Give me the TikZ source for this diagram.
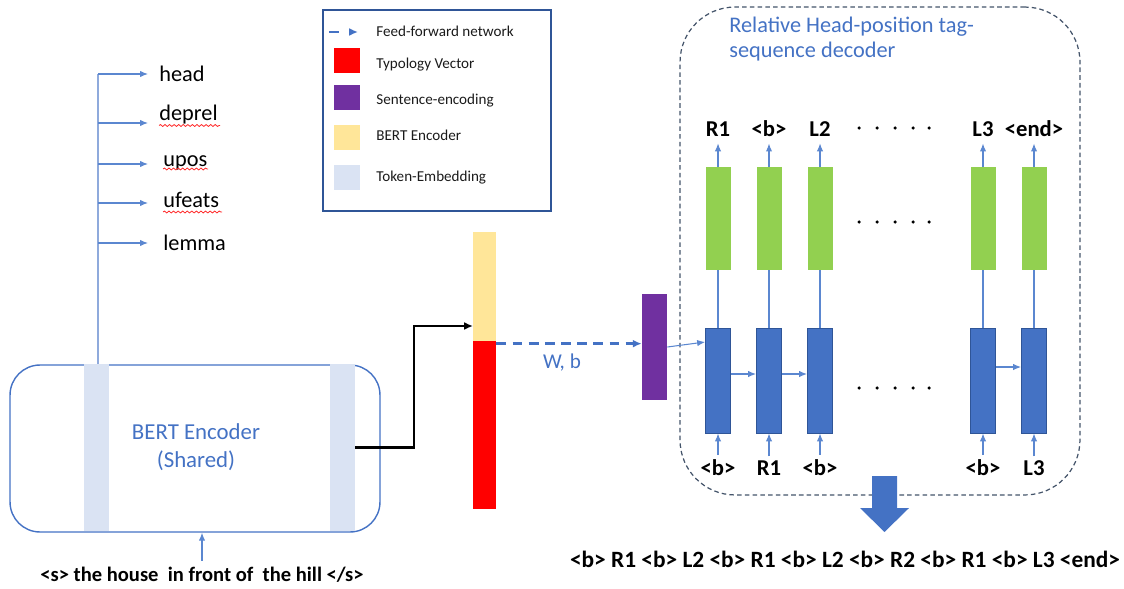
\documentclass[tikz,border=0pt]{standalone}
\usepackage{fontspec}
\setmainfont{Carlito}
\usetikzlibrary{arrows.meta,decorations.pathmorphing}
\definecolor{bblue}{HTML}{4472C4}
\definecolor{dblue}{HTML}{2F5597}
\definecolor{lblue}{HTML}{DAE3F3}
\definecolor{yel}{HTML}{FFE699}
\definecolor{purp}{HTML}{7030A0}
\definecolor{grn}{HTML}{92D050}
\definecolor{slate}{HTML}{44546A}
\definecolor{treeblue}{HTML}{8FAADC}
\definecolor{arrblue}{HTML}{5B87D0}
\definecolor{txt}{HTML}{1A1A1A}
\begin{document}
\begin{tikzpicture}[x=0.02cm,y=-0.02cm,
  thinarr/.style={draw=arrblue, line width=0.6pt, -{Latex[length=4.5pt,width=3.6pt]}},
  plainln/.style={draw=arrblue, line width=0.6pt},
  ffn/.style={draw=bblue, line width=1.4pt, dash pattern=on 5.6pt off 3.6pt, -{Latex[length=5pt,width=4.5pt]}},
  blk/.style={draw=black, line width=1.3pt, -{Latex[length=5pt,width=4.5pt]}},
  sq/.style={minimum width=0.52cm, minimum height=0.5cm, inner sep=0, draw=none},
  ltext/.style={anchor=base west, inner sep=0, text=txt, font=\fontsize{8.6pt}{10pt}\selectfont},
  treelab/.style={anchor=base west, inner sep=0, text=black, font=\fontsize{12.7pt}{15pt}\selectfont},
  strip/.style={fill=lblue, minimum width=0.5cm, minimum height=3.34cm, inner sep=0},
  gbox/.style={fill=grn, minimum width=0.5cm, minimum height=2.06cm, inner sep=0},
  bbox/.style={fill=bblue, draw=dblue, line width=0.5pt, minimum width=0.5cm, minimum height=2.1cm, inner sep=0},
  tlab/.style={anchor=base, inner sep=0, text=black, font=\fontsize{12.9pt}{15pt}\selectfont\bfseries},
  squig/.style={draw=red!85!white, line width=0.45pt, decorate, decoration={snake, amplitude=0.55pt, segment length=2.6pt}},
]
\useasboundingbox (0,0) rectangle (1124,588);

% ---------------- legend ----------------
\node[draw=dblue, line width=1.2pt, minimum width=4.56cm, minimum height=4.02cm, inner sep=0] (legend) at (437,110.5) {};
\coordinate (lgA) at (329,32);
\coordinate (lgB) at (358,32);
\draw[ffn, dash pattern=on 5.6pt off 6.4pt] (lgA) -- (lgB);
\node[sq, fill=red]   (lg1) at (347,60.5) {};
\node[sq, fill=purp]  (lg2) at (347,97.5) {};
\node[sq, fill=yel]   (lg3) at (347,137.5) {};
\node[sq, fill=lblue] (lg4) at (346.5,177.5) {};
\node[ltext] (lt0) at (376,36.5) {Feed-forward network};
\node[ltext] (lt1) at (376,69) {Typology Vector};
\node[ltext] (lt2) at (376,104) {Sentence-encoding};
\node[ltext] (lt3) at (376,140) {BERT Encoder};
\node[ltext] (lt4) at (376,181.5) {Token-Embedding};

% ---------------- shared encoder ----------------
\node[draw=bblue, line width=0.8pt, rounded corners=0.6cm, minimum width=7.4cm, minimum height=3.34cm, inner sep=0] (enc) at (195,448.5) {};
\node[strip] (s1) at (96.5,447.5) {};
\node[strip] (s2) at (342.5,447.5) {};
\node[anchor=base, inner sep=0, text=bblue, font=\fontsize{13pt}{16pt}\selectfont] (encl1) at (196,439) {BERT Encoder};
\node[anchor=base, inner sep=0, text=bblue, font=\fontsize{13pt}{16pt}\selectfont] (encl2) at (196,467) {(Shared)};

\node[anchor=base, inner sep=0, font=\fontsize{11.7pt}{14pt}\selectfont\bfseries] (sent) at (202,581) {<s> the house\ \ in front of\ \ the hill </s>};
\draw[thinarr, shorten <=3pt] (sent.north) -- (sent.north |- enc.south);

% ---------------- tree of outputs ----------------
\coordinate (ttop) at (98,74);
\draw[draw=treeblue, line width=1.3pt] (s1.north -| ttop) -- (ttop);
\node[treelab] (hd) at (159,82) {head};
\node[treelab] (dr) at (159,120) {deprel};
\node[treelab] (up) at (163,166) {upos};
\node[treelab] (uf) at (163,207) {ufeats};
\node[treelab] (lm) at (163,250) {lemma};
\coordinate (e1) at (148,74);
\coordinate (e2) at (148,123);
\coordinate (e3) at (148,164);
\coordinate (e4) at (148,203);
\coordinate (e5) at (148,243);
\foreach \k in {1,...,5} \draw[thinarr] (ttop |- e\k) -- (e\k);
\draw[squig] (159,125.5) -- (220,125.5);
\draw[squig] (163,169) -- (208,169);
\draw[squig] (163,212) -- (222,212);

% ---------------- concatenated vector ----------------
\node[fill=yel, minimum width=0.46cm, minimum height=2.18cm, inner sep=0] (yb) at (484.5,286.5) {};
\node[fill=red, minimum width=0.46cm, minimum height=3.36cm, inner sep=0] (rb) at (484.5,425) {};
\coordinate (ybin) at (473,326);
\draw[blk] (s2.east) -- ++(59,0) |- (ybin);

% ---------------- sentence encoding ----------------
\node[fill=purp, minimum width=0.5cm, minimum height=2.12cm, inner sep=0] (pb) at (654.5,347) {};
\draw[ffn] ([yshift=-1.7pt]rb.north east) coordinate (ffs) -- (pb.west |- ffs);
\node[anchor=base, inner sep=0, text=bblue, font=\fontsize{12pt}{14pt}\selectfont] (wb) at (562,368) {W, b};

% ---------------- decoder ----------------
\node[draw=slate, line width=0.7pt, dash pattern=on 2.6pt off 1.8pt, rounded corners=1.1cm, minimum width=8cm, minimum height=9.76cm, inner sep=0] (dec) at (880,251) {};
\node[anchor=base west, inner sep=0, text=bblue, font=\fontsize{12.7pt}{15pt}\selectfont] (dt1) at (729,32.5) {Relative Head-position tag-};
\node[anchor=base west, inner sep=0, text=bblue, font=\fontsize{12.7pt}{15pt}\selectfont] (dt2) at (729,57.5) {sequence decoder};

\foreach \i/\x/\tp/\bt in {1/718/R1/{<b>}, 2/769/{<b>}/R1, 3/820/L2/{<b>}, 4/983/L3/{<b>}, 5/1034/{<end>}/L3} {
  \node[gbox] (g\i) at (\x,218.5) {};
  \node[bbox] (b\i) at (\x,380.5) {};
  \node[tlab] (t\i) at (\x,136) {\tp};
  \node[tlab] (u\i) at (\x,475) {\bt};
  \draw[plainln] (b\i.north) -- (g\i.south);
  \draw[thinarr, shorten >=4pt] (g\i.north) -- (t\i.south);
  \draw[thinarr, shorten <=2pt] (u\i.north) -- (b\i.south);
}
\draw[thinarr] (pb.east) -- ([yshift=0.77cm]b1.west);
\draw[thinarr] ([yshift=0.13cm]b1.east) -- ([yshift=0.13cm]b2.west);
\draw[thinarr] ([yshift=0.13cm]b2.east) -- ([yshift=0.13cm]b3.west);
\draw[thinarr] ([yshift=0.27cm]b4.east) -- ([yshift=0.27cm]b5.west);

\foreach \yy in {128,222,388}
  \foreach \xx in {859,877,895,913,929}
    \fill (\xx,\yy) circle (1pt);

% big output arrow
\fill[bblue] (872,476) -- (897,476) -- (897,508) -- (909,508) -- (884.5,532) -- (860,508) -- (872,508) -- cycle;
\node[anchor=base, inner sep=0, font=\fontsize{13.3pt}{16pt}\selectfont\bfseries] (seq) at (845,567) {<b> R1 <b> L2 <b> R1 <b> L2 <b> R2 <b> R1 <b> L3 <end>};
\end{tikzpicture}
\end{document}
